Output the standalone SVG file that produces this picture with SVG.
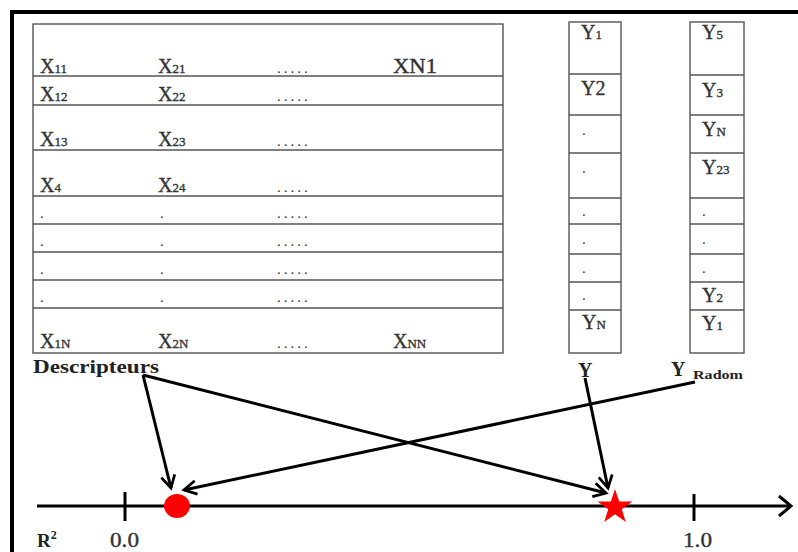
<svg xmlns="http://www.w3.org/2000/svg" width="798" height="552" viewBox="0 0 798 552">
  <style>
    .cell { fill: none; stroke: #555; stroke-width: 1.4; }
    .rule { stroke: #555; stroke-width: 1.4; }
    .t { font-family: "Liberation Serif", "Times New Roman", serif; font-size: 20px; fill: #333; stroke: #333; stroke-width: 0.35; }
    .sub { font-size: 13px; }
    .dots { font-family: "Liberation Serif", "Times New Roman", serif; font-size: 15px; fill: #333; letter-spacing: 3px; }
    .lbl { font-family: "Liberation Serif", "Times New Roman", serif; font-weight: bold; fill: #222; }
    .axis { stroke: #000; stroke-width: 3; fill: none; }
    .link { stroke: #000; stroke-width: 3; fill: none; marker-end: url(#vhead); }
  </style>
  <defs>
    <marker id="vhead" viewBox="0 0 12 12" refX="10" refY="6" markerWidth="5.5" markerHeight="5.5" markerUnits="strokeWidth" orient="auto">
      <path d="M1,1 L10,6 L1,11" fill="none" stroke="#000" stroke-width="2"/>
    </marker>
  </defs>

  <rect width="798" height="552" fill="#fff"/>

  <!-- outer frame (top and left edges) -->
  <path d="M12,552 V12 H798" fill="none" stroke="#000" stroke-width="4"/>

  <!-- descriptor matrix -->
  <g id="descriptors-table">
    <rect class="cell" x="33" y="24" width="470" height="329"/>
    <line class="rule" x1="33" y1="76" x2="503" y2="76"/>
    <line class="rule" x1="33" y1="105" x2="503" y2="105"/>
    <line class="rule" x1="33" y1="150" x2="503" y2="150"/>
    <line class="rule" x1="33" y1="196" x2="503" y2="196"/>
    <line class="rule" x1="33" y1="224" x2="503" y2="224"/>
    <line class="rule" x1="33" y1="252" x2="503" y2="252"/>
    <line class="rule" x1="33" y1="280" x2="503" y2="280"/>
    <line class="rule" x1="33" y1="308" x2="503" y2="308"/>

    <text class="t" x="40" y="73">X<tspan class="sub">11</tspan></text>
    <text class="t" x="158" y="73">X<tspan class="sub">21</tspan></text>
    <text class="dots" x="277" y="73">.....</text>
    <text class="t" x="393" y="73" textLength="44" lengthAdjust="spacingAndGlyphs">XN1</text>

    <text class="t" x="40" y="101">X<tspan class="sub">12</tspan></text>
    <text class="t" x="158" y="101">X<tspan class="sub">22</tspan></text>
    <text class="dots" x="277" y="101">.....</text>

    <text class="t" x="40" y="146">X<tspan class="sub">13</tspan></text>
    <text class="t" x="158" y="146">X<tspan class="sub">23</tspan></text>
    <text class="dots" x="277" y="146">.....</text>

    <text class="t" x="40" y="192">X<tspan class="sub">4</tspan></text>
    <text class="t" x="158" y="192">X<tspan class="sub">24</tspan></text>
    <text class="dots" x="277" y="192">.....</text>

    <text class="dots" x="40" y="218">.</text>
    <text class="dots" x="160" y="218">.</text>
    <text class="dots" x="277" y="218">.....</text>
    <text class="dots" x="40" y="246">.</text>
    <text class="dots" x="160" y="246">.</text>
    <text class="dots" x="277" y="246">.....</text>
    <text class="dots" x="40" y="274">.</text>
    <text class="dots" x="160" y="274">.</text>
    <text class="dots" x="277" y="274">.....</text>
    <text class="dots" x="40" y="302">.</text>
    <text class="dots" x="160" y="302">.</text>
    <text class="dots" x="277" y="302">.....</text>

    <text class="t" x="40" y="348">X<tspan class="sub">1N</tspan></text>
    <text class="t" x="158" y="348">X<tspan class="sub">2N</tspan></text>
    <text class="dots" x="277" y="348">.....</text>
    <text class="t" x="393" y="348">X<tspan class="sub">NN</tspan></text>
  </g>

  <!-- response column -->
  <g id="y-column">
    <rect class="cell" x="569" y="22" width="52" height="331"/>
    <line class="rule" x1="569" y1="74" x2="621" y2="74"/>
    <line class="rule" x1="569" y1="115" x2="621" y2="115"/>
    <line class="rule" x1="569" y1="153" x2="621" y2="153"/>
    <line class="rule" x1="569" y1="198" x2="621" y2="198"/>
    <line class="rule" x1="569" y1="224" x2="621" y2="224"/>
    <line class="rule" x1="569" y1="254" x2="621" y2="254"/>
    <line class="rule" x1="569" y1="282" x2="621" y2="282"/>
    <line class="rule" x1="569" y1="310" x2="621" y2="310"/>
    <text class="t" x="581" y="39">Y<tspan class="sub">1</tspan></text>
    <text class="t" x="581" y="95">Y2</text>
    <text class="dots" x="582" y="135">.</text>
    <text class="dots" x="582" y="173">.</text>
    <text class="dots" x="582" y="216">.</text>
    <text class="dots" x="582" y="244">.</text>
    <text class="dots" x="582" y="273">.</text>
    <text class="dots" x="582" y="300">.</text>
    <text class="t" x="582" y="329">Y<tspan class="sub">N</tspan></text>
  </g>

  <!-- randomised response column -->
  <g id="y-random-column">
    <rect class="cell" x="690" y="22" width="54" height="331"/>
    <line class="rule" x1="690" y1="75" x2="744" y2="75"/>
    <line class="rule" x1="690" y1="115" x2="744" y2="115"/>
    <line class="rule" x1="690" y1="153" x2="744" y2="153"/>
    <line class="rule" x1="690" y1="198" x2="744" y2="198"/>
    <line class="rule" x1="690" y1="224" x2="744" y2="224"/>
    <line class="rule" x1="690" y1="254" x2="744" y2="254"/>
    <line class="rule" x1="690" y1="282" x2="744" y2="282"/>
    <line class="rule" x1="690" y1="310" x2="744" y2="310"/>
    <text class="t" x="702" y="39">Y<tspan class="sub">5</tspan></text>
    <text class="t" x="702" y="97">Y<tspan class="sub">3</tspan></text>
    <text class="t" x="702" y="136">Y<tspan class="sub">N</tspan></text>
    <text class="t" x="702" y="174">Y<tspan class="sub">23</tspan></text>
    <text class="dots" x="702" y="216">.</text>
    <text class="dots" x="702" y="244">.</text>
    <text class="dots" x="702" y="273">.</text>
    <text class="t" x="702" y="302">Y<tspan class="sub">2</tspan></text>
    <text class="t" x="702" y="330">Y<tspan class="sub">1</tspan></text>
  </g>

  <!-- column captions -->
  <g id="label-descripteurs">
    <text class="lbl" x="33" y="373" font-size="19" textLength="126" lengthAdjust="spacingAndGlyphs">Descripteurs</text>
  </g>
  <g id="label-y">
    <text class="lbl" x="578" y="377" font-size="20">Y</text>
  </g>
  <g id="label-y-radom">
    <text class="lbl" x="671" y="376" font-size="20" font-weight="normal">Y</text>
    <text class="lbl" x="693" y="379" font-size="13" textLength="50" lengthAdjust="spacingAndGlyphs">Radom</text>
  </g>

  <!-- R² axis -->
  <g id="r2-axis">
    <line class="axis" x1="37" y1="506" x2="790" y2="506"/>
    <path class="axis" d="M779,496 L791,506 L779,516"/>
    <line class="axis" x1="125" y1="492" x2="125" y2="521"/>
    <line class="axis" x1="694" y1="494" x2="694" y2="521"/>
    <text class="lbl" x="37" y="547" font-size="19">R<tspan font-size="12" dy="-8">2</tspan></text>
    <text class="t" x="110" y="547" fill="#222" textLength="29" lengthAdjust="spacingAndGlyphs">0.0</text>
    <text class="t" x="683" y="547" fill="#222" textLength="29" lengthAdjust="spacingAndGlyphs">1.0</text>
  </g>

  <!-- model scores -->
  <g id="score-random">
    <ellipse cx="177" cy="506" rx="13" ry="12" fill="#f00"/>
  </g>
  <g id="score-real">
    <polygon fill="#f00" points="615,489 619.2,501.5 632.5,501.5 621.8,509.3 625.8,522 615,514.2 604.2,522 608.2,509.3 597.5,501.5 610.8,501.5"/>
  </g>

  <!-- connectors -->
  <g id="connectors">
    <line class="link" x1="143" y1="375" x2="171" y2="488"/>
    <line class="link" x1="143" y1="375" x2="606" y2="493"/>
    <line class="link" x1="695" y1="382" x2="184" y2="490"/>
    <line class="link" x1="585" y1="378" x2="608" y2="488"/>
  </g>
</svg>
